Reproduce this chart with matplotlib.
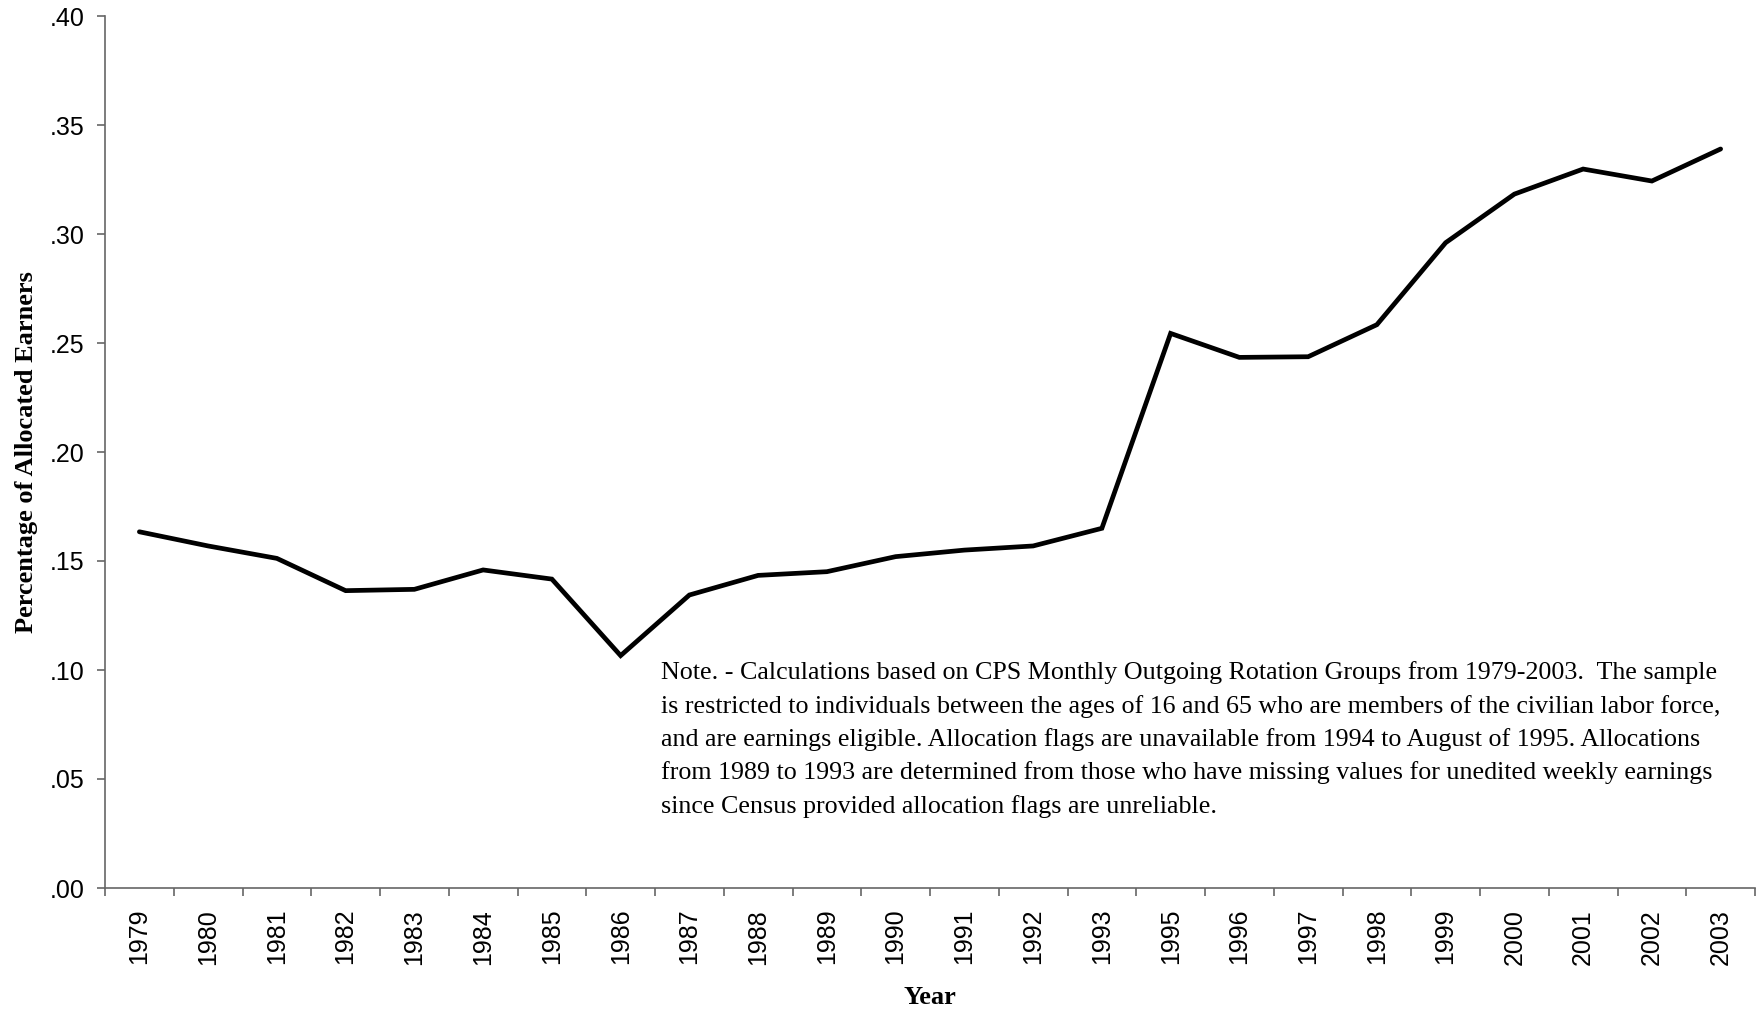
import matplotlib
matplotlib.use("Agg")
import matplotlib.pyplot as plt
from matplotlib.ticker import FixedLocator, FuncFormatter

years = ["1979", "1980", "1981", "1982", "1983", "1984", "1985", "1986", "1987",
         "1988", "1989", "1990", "1991", "1992", "1993", "1995", "1996", "1997",
         "1998", "1999", "2000", "2001", "2002", "2003"]
share_allocated = [0.1634, 0.1569, 0.1512, 0.1364, 0.1370, 0.1459, 0.1417, 0.1066,
                   0.1344, 0.1434, 0.1451, 0.1520, 0.1550, 0.1569, 0.1650, 0.2544,
                   0.2434, 0.2437, 0.2584, 0.2960, 0.3183, 0.3298, 0.3243, 0.3390]
y_ticks = [0.00, 0.05, 0.10, 0.15, 0.20, 0.25, 0.30, 0.35, 0.40]

note_lines = [
    "Note. - Calculations based on CPS Monthly Outgoing Rotation Groups from 1979-2003.  The sample",
    "is restricted to individuals between the ages of 16 and 65 who are members of the civilian labor force,",
    "and are earnings eligible. Allocation flags are unavailable from 1994 to August of 1995. Allocations",
    "from 1989 to 1993 are determined from those who have missing values for unedited weekly earnings",
    "since Census provided allocation flags are unreliable.",
]

W, H = 1762, 1011
fig = plt.figure(figsize=(W / 100, H / 100), dpi=100)
left, right, top, bottom = 105, 1755, 16, 888
ax = fig.add_axes([left / W, 1 - bottom / H, (right - left) / W, (bottom - top) / H])

x = list(range(len(years)))
ax.plot(x, share_allocated, color="black", lw=3.4, solid_joinstyle="miter",
        solid_capstyle="round")

ax.set_xlim(-0.5, len(years) - 0.5)
ax.set_ylim(0, 0.40)

spine_col = "#666666"
for s in ["top", "right"]:
    ax.spines[s].set_visible(False)
for s in ["left", "bottom"]:
    ax.spines[s].set_color(spine_col)
    ax.spines[s].set_linewidth(1.2)

# y axis
ax.yaxis.set_major_locator(FixedLocator(y_ticks))
ax.yaxis.set_major_formatter(FuncFormatter(lambda v, p: ("%.2f" % v)[1:]))
ax.tick_params(axis="y", direction="out", length=6, width=1.2, color=spine_col,
               pad=9, labelsize=18, labelcolor="black")
for lab in ax.get_yticklabels():
    lab.set_family(["Liberation Sans", "DejaVu Sans"])

# x axis: ticks at category boundaries, labels at centers
ax.xaxis.set_major_locator(FixedLocator([i - 0.5 for i in range(len(years) + 1)]))
ax.xaxis.set_major_formatter(FuncFormatter(lambda v, p: ""))
ax.xaxis.set_minor_locator(FixedLocator(x))
ax.set_xticks(x, years, minor=True)
ax.tick_params(axis="x", which="major", direction="out", length=6, width=1.2,
               color=spine_col)
ax.tick_params(axis="x", which="minor", length=0, pad=15, labelsize=18,
               labelrotation=90, labelcolor="black")
for lab in ax.get_xticklabels(minor=True):
    lab.set_family(["Liberation Sans", "DejaVu Sans"])

serif = ["Liberation Serif", "DejaVu Serif"]
fig.text(27 / W, 1 - 452 / H, "Percentage of Allocated Earners", rotation=90,
         ha="center", va="center", fontsize=19, fontweight="bold", family=serif)
fig.text(930 / W, 1 - 997 / H, "Year", ha="center", va="center", fontsize=19,
         fontweight="bold", family=serif)

for i, line in enumerate(note_lines):
    fig.text(661 / W, 1 - (679 + 33.5 * i) / H, line, ha="left", va="baseline",
             fontsize=18.7, family=serif)

fig.savefig("out.png", dpi=100)
